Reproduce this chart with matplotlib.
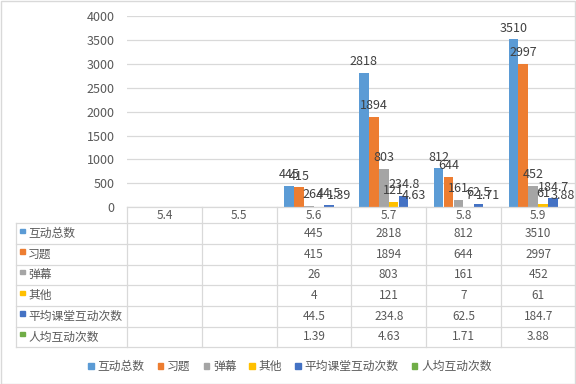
import matplotlib
matplotlib.use("Agg")
import matplotlib.pyplot as plt
from matplotlib.patches import Patch, Rectangle
from matplotlib.lines import Line2D

plt.rcParams['font.family'] = ['Noto Sans CJK SC', 'DejaVu Sans']

# data
dates = ["5.4", "5.5", "5.6", "5.7", "5.8", "5.9"]
series_names = ["互动总数", "习题", "弹幕", "其他", "平均课堂互动次数", "人均互动次数"]
total = [None, None, 445, 2818, 812, 3510]
exercise = [None, None, 415, 1894, 644, 2997]
danmu = [None, None, 26, 803, 161, 452]
other = [None, None, 4, 121, 7, 61]
avg_class = [None, None, 44.5, 234.8, 62.5, 184.7]
per_person = [None, None, 1.39, 4.63, 1.71, 3.88]
all_series = [total, exercise, danmu, other, avg_class, per_person]
colors = ["#5B9BD5", "#ED7D31", "#A5A5A5", "#FFC000", "#4472C4", "#70AD47"]

W, H = 576, 384
fig = plt.figure(figsize=(W / 100, H / 100), dpi=100)

# plot area in pixels
x0, x1 = 127.3, 575.5
y_top, y_bot = 16, 207.3
ax = fig.add_axes([x0 / W, 1 - y_bot / H, (x1 - x0) / W, (y_bot - y_top) / H])

txt = "#595959"
grid = "#D9D9D9"

bw = 0.8 / 6
for i, (vals, c) in enumerate(zip(all_series, colors)):
    for j, v in enumerate(vals):
        if v is None:
            continue
        xpos = j + (i - 2.5) * bw
        ax.bar(xpos, v, width=bw * 0.95, color=c, zorder=3)
        ax.annotate(f"{v:g}", (xpos, v), xytext=(0, 3.5), textcoords="offset points",
                    ha="center", va="bottom", fontsize=9, color="#404040", zorder=4)

ax.set_xlim(-0.5, len(dates) - 0.5)
ax.set_ylim(0, 4000)
ax.set_yticks(range(0, 4001, 500))
ax.tick_params(axis="y", length=0, labelsize=9, labelcolor=txt, pad=9)
ax.set_xticks([])
ax.grid(axis="y", color=grid, linewidth=0.9, zorder=0)
for s in ax.spines.values():
    s.set_visible(False)

# data table under the plot, positions in figure pixels
def fx(px):
    return px / W
def fy(py):
    return 1 - py / H

tbl_left = 16.3
row_edges = [223.3, 243.8, 264.5, 285.2, 305.9, 326.6, 347.3]
col_edges = [x0 + k * (x1 - x0) / len(dates) for k in range(len(dates) + 1)]

def hline(xa, xb, py):
    fig.add_artist(Line2D([fx(xa), fx(xb)], [fy(py), fy(py)], color=grid, lw=0.9))
def vline(px, ya, yb):
    fig.add_artist(Line2D([fx(px), fx(px)], [fy(ya), fy(yb)], color=grid, lw=0.9))

hline(x0, x1, y_bot)
for r in row_edges:
    hline(tbl_left, x1, r)
vline(tbl_left, row_edges[0], row_edges[-1])
for cx in col_edges:
    vline(cx, y_bot, row_edges[-1])

# header labels
for k, d in enumerate(dates):
    cx = (col_edges[k] + col_edges[k + 1]) / 2
    fig.text(fx(cx), fy((y_bot + row_edges[0]) / 2), d, ha="center", va="center",
             fontsize=8.5, color=txt)

# rows
for r, (name, vals, c) in enumerate(zip(series_names, all_series, colors)):
    yc = (row_edges[r] + row_edges[r + 1]) / 2
    fig.add_artist(Rectangle((fx(20), fy(yc - 0.5)), 4.5 / W, 4.5 / H, color=c,
                             transform=fig.transFigure))
    fig.text(fx(28), fy(yc), name, ha="left", va="center", fontsize=8.5, color=txt)
    for k, v in enumerate(vals):
        if v is None:
            continue
        cx = (col_edges[k] + col_edges[k + 1]) / 2
        fig.text(fx(cx), fy(yc), f"{v:g}", ha="center", va="center", fontsize=8.5, color=txt)

# legend
handles = [Patch(color=c, label=n) for n, c in zip(series_names, colors)]
fig.legend(handles=handles, loc="center", bbox_to_anchor=(fx(290), fy(366.5)), ncol=6,
           frameon=False, fontsize=8.5, labelcolor=txt, handlelength=0.45, handleheight=0.45,
           handletextpad=0.35, columnspacing=1.1)

# chart border
fig.add_artist(Rectangle((0.5 / W, 0.5 / H), 1 - 1.5 / W, 1 - 1.5 / H, fill=False,
                         edgecolor=grid, lw=1, transform=fig.transFigure))

fig.savefig("out.png", dpi=100)
